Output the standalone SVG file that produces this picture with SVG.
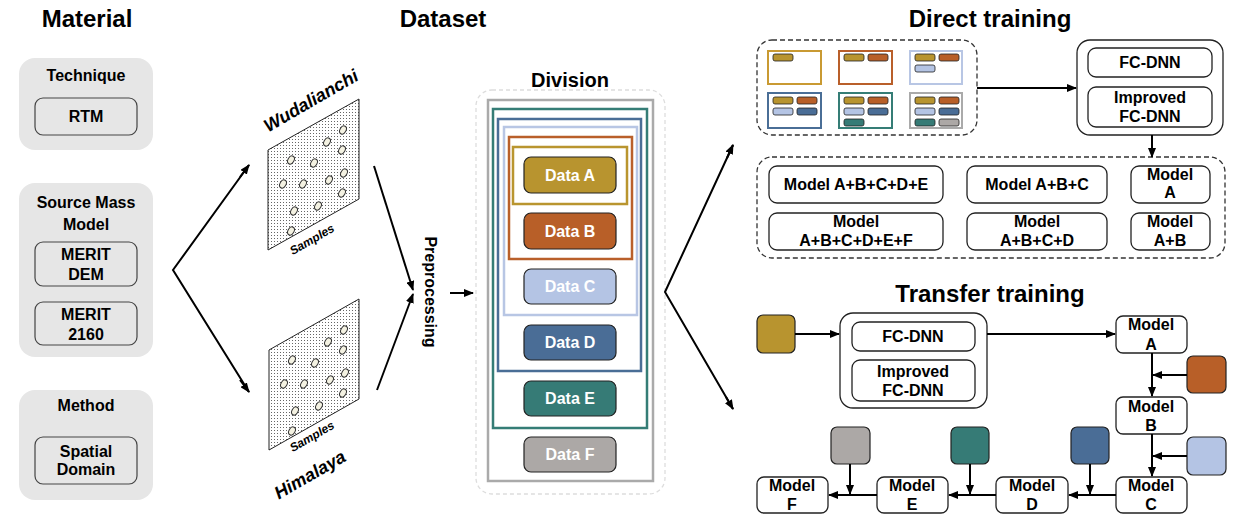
<svg xmlns="http://www.w3.org/2000/svg" xmlns:xlink="http://www.w3.org/1999/xlink" width="1248" height="526" viewBox="0 0 1248 526">
<defs>
<style>
text{font-family:"Liberation Sans",Arial,sans-serif;font-weight:bold;fill:#000;text-anchor:middle}
.title{font-size:24px}
.t16{font-size:16px}
.wt{fill:#fff;font-size:16px}
.ital{font-style:italic}
.panel{fill:#e6e6e6;stroke:none}
.pbox{fill:#e6e6e6;stroke:#444;stroke-width:1.2}
.wbox{fill:#fff;stroke:#222;stroke-width:1.3}
.dash{fill:none;stroke:#333;stroke-width:1.3;stroke-dasharray:5,3}
.arr{fill:none;stroke:#000;stroke-width:2;marker-end:url(#ah)}
.arr2{fill:none;stroke:#000;stroke-width:2}
.dbox{stroke:#222;stroke-width:1.2}
.bar{stroke:#222;stroke-width:0.8}
.pt{fill:#f4f2e2;stroke:#333;stroke-width:1}
</style>
<marker id="ah" viewBox="0 0 10 8" refX="9" refY="4" markerWidth="10" markerHeight="8" markerUnits="userSpaceOnUse" orient="auto">
<path d="M0,0 L10,4 L0,8 z" fill="#000"/>
</marker>
<pattern id="dots" width="3" height="3" patternUnits="userSpaceOnUse">
<rect width="3" height="3" fill="#fff"/>
<rect x="1" y="1" width="1" height="1" fill="#666"/>
</pattern>
<g id="pts">
<ellipse class="pt" cx="343" cy="130" rx="3" ry="4.3" transform="rotate(30 343 130)"/>
<ellipse class="pt" cx="327" cy="142" rx="3" ry="4.3" transform="rotate(30 327 142)"/>
<ellipse class="pt" cx="342" cy="150" rx="3" ry="4.3" transform="rotate(30 342 150)"/>
<ellipse class="pt" cx="291" cy="160" rx="3" ry="4.3" transform="rotate(30 291 160)"/>
<ellipse class="pt" cx="314" cy="163" rx="3" ry="4.3" transform="rotate(30 314 163)"/>
<ellipse class="pt" cx="344" cy="173" rx="3" ry="4.3" transform="rotate(30 344 173)"/>
<ellipse class="pt" cx="329" cy="180" rx="3" ry="4.3" transform="rotate(30 329 180)"/>
<ellipse class="pt" cx="283" cy="184" rx="3" ry="4.3" transform="rotate(30 283 184)"/>
<ellipse class="pt" cx="303" cy="184" rx="3" ry="4.3" transform="rotate(30 303 184)"/>
<ellipse class="pt" cx="342" cy="193" rx="3" ry="4.3" transform="rotate(30 342 193)"/>
<ellipse class="pt" cx="318" cy="206" rx="3" ry="4.3" transform="rotate(30 318 206)"/>
<ellipse class="pt" cx="294" cy="211" rx="3" ry="4.3" transform="rotate(30 294 211)"/>
<ellipse class="pt" cx="291" cy="231" rx="3" ry="4.3" transform="rotate(30 291 231)"/>
</g>
</defs>
<rect width="1248" height="526" fill="#fff"/>

<!-- Titles -->
<text class="title" x="87" y="27">Material</text>
<text class="title" x="443" y="27">Dataset</text>
<text class="title" x="990" y="27">Direct training</text>
<text class="title" x="990" y="302">Transfer training</text>

<!-- Material column -->
<g id="technique">
<rect class="panel" x="19" y="58" width="134" height="92" rx="16"/>
<text class="t16" x="86" y="81">Technique</text>
<rect class="pbox" x="35" y="98" width="102" height="37" rx="8"/>
<text class="t16" x="86" y="122">RTM</text>
</g>
<g id="source-mass-model">
<rect class="panel" x="19" y="183" width="134" height="174" rx="16"/>
<text class="t16" x="86" y="208">Source Mass</text>
<text class="t16" x="86" y="230">Model</text>
<rect class="pbox" x="35" y="242" width="102" height="44" rx="8"/>
<text class="t16" x="86" y="260">MERIT</text>
<text class="t16" x="86" y="280">DEM</text>
<rect class="pbox" x="35" y="302" width="102" height="43" rx="8"/>
<text class="t16" x="86" y="320">MERIT</text>
<text class="t16" x="86" y="340">2160</text>
</g>
<g id="method">
<rect class="panel" x="19" y="390" width="134" height="110" rx="16"/>
<text class="t16" x="86" y="411">Method</text>
<rect class="pbox" x="35" y="437" width="102" height="47" rx="8"/>
<text class="t16" x="86" y="457">Spatial</text>
<text class="t16" x="86" y="475">Domain</text>
</g>

<!-- Sample planes -->
<g id="wudalianchi">
<polygon points="268,150 359,99 359,199 268,250" fill="url(#dots)" stroke="#222" stroke-width="1"/>
<use xlink:href="#pts"/>
<text class="ital" font-size="18" transform="translate(314,106) rotate(-30)">Wudalianchi</text>
<text class="ital" font-size="12" transform="translate(314,243) rotate(-30)">Samples</text>
</g>
<g id="himalaya">
<polygon points="269,350 359,299 359,399 269,450" fill="url(#dots)" stroke="#222" stroke-width="1"/>
<use xlink:href="#pts" transform="translate(1,200)"/>
<text class="ital" font-size="12" transform="translate(314,440) rotate(-30)">Samples</text>
<text class="ital" font-size="18" transform="translate(313,480) rotate(-30)">Himalaya</text>
</g>
<text class="t16" transform="translate(425,292) rotate(90)">Preprocessing</text>

<!-- Division -->
<g id="division">
<text x="570" y="87" font-size="20">Division</text>
<rect x="476" y="90" width="189" height="404" rx="16" fill="none" stroke="#ddd" stroke-width="1.3" stroke-dasharray="4,3"/>
<rect x="488" y="100" width="165" height="381" fill="none" stroke="#aaa" stroke-width="2.5"/>
<rect x="493" y="109" width="154" height="319" fill="none" stroke="#357d76" stroke-width="2.5"/>
<rect x="498" y="119" width="143" height="252" fill="none" stroke="#4a6e96" stroke-width="2.5"/>
<rect x="504" y="127" width="133" height="188" fill="none" stroke="#b8c6e4" stroke-width="2.5"/>
<rect x="509" y="137" width="123" height="122" fill="none" stroke="#b95f2a" stroke-width="2.5"/>
<rect x="513" y="147" width="114" height="57" fill="none" stroke="#b9952f" stroke-width="2.5"/>
</g>
<g id="data-a"><rect class="dbox" x="524" y="157" width="92" height="36" rx="7" fill="#b8942f"/><text class="wt" x="570" y="181">Data A</text></g>
<g id="data-b"><rect class="dbox" x="524" y="213" width="92" height="36" rx="7" fill="#b85f28"/><text class="wt" x="570" y="237">Data B</text></g>
<g id="data-c"><rect class="dbox" x="524" y="269" width="92" height="35" rx="7" fill="#b4c4e4"/><text class="wt" x="570" y="292">Data C</text></g>
<g id="data-d"><rect class="dbox" x="524" y="325" width="92" height="35" rx="7" fill="#4a6d96"/><text class="wt" x="570" y="348">Data D</text></g>
<g id="data-e"><rect class="dbox" x="524" y="381" width="92" height="35" rx="7" fill="#367b76"/><text class="wt" x="570" y="404">Data E</text></g>
<g id="data-f"><rect class="dbox" x="524" y="437" width="92" height="35" rx="7" fill="#aca8a6"/><text class="wt" x="570" y="460">Data F</text></g>

<!-- Direct training -->
<g id="dataset-combos">
<rect class="dash" x="757" y="40" width="220" height="95" rx="15"/>
<rect x="768" y="51" width="53" height="33" fill="none" stroke="#c99a32" stroke-width="2"/>
<rect x="839" y="51" width="53" height="33" fill="none" stroke="#b95f2a" stroke-width="2"/>
<rect x="910" y="51" width="52" height="33" fill="none" stroke="#b8c6e4" stroke-width="2"/>
<rect x="768" y="93" width="53" height="35" fill="none" stroke="#4a6e96" stroke-width="2"/>
<rect x="839" y="93" width="53" height="35" fill="none" stroke="#357d76" stroke-width="2"/>
<rect x="910" y="93" width="52" height="35" fill="none" stroke="#aaa" stroke-width="2"/>
<rect class="bar" x="773" y="54" width="20" height="7" rx="2" fill="#b8942f"/>
<rect class="bar" x="844" y="54" width="20" height="7" rx="2" fill="#b8942f"/>
<rect class="bar" x="868" y="54" width="20" height="7" rx="2" fill="#b85f28"/>
<rect class="bar" x="915" y="54" width="20" height="7" rx="2" fill="#b8942f"/>
<rect class="bar" x="939" y="54" width="20" height="7" rx="2" fill="#b85f28"/>
<rect class="bar" x="915" y="65" width="20" height="7" rx="2" fill="#b4c4e4"/>
<rect class="bar" x="773" y="97" width="20" height="7" rx="2" fill="#b8942f"/>
<rect class="bar" x="797" y="97" width="20" height="7" rx="2" fill="#b85f28"/>
<rect class="bar" x="773" y="108" width="20" height="7" rx="2" fill="#b4c4e4"/>
<rect class="bar" x="797" y="108" width="20" height="7" rx="2" fill="#4a6d96"/>
<rect class="bar" x="844" y="97" width="20" height="7" rx="2" fill="#b8942f"/>
<rect class="bar" x="868" y="97" width="20" height="7" rx="2" fill="#b85f28"/>
<rect class="bar" x="844" y="108" width="20" height="7" rx="2" fill="#b4c4e4"/>
<rect class="bar" x="868" y="108" width="20" height="7" rx="2" fill="#4a6d96"/>
<rect class="bar" x="844" y="119" width="20" height="7" rx="2" fill="#367b76"/>
<rect class="bar" x="915" y="97" width="20" height="7" rx="2" fill="#b8942f"/>
<rect class="bar" x="939" y="97" width="20" height="7" rx="2" fill="#b85f28"/>
<rect class="bar" x="915" y="108" width="20" height="7" rx="2" fill="#b4c4e4"/>
<rect class="bar" x="939" y="108" width="20" height="7" rx="2" fill="#4a6d96"/>
<rect class="bar" x="915" y="119" width="20" height="7" rx="2" fill="#367b76"/>
<rect class="bar" x="939" y="119" width="20" height="7" rx="2" fill="#aca8a6"/>
</g>
<g id="direct-networks">
<rect class="wbox" x="1077" y="40" width="146" height="95" rx="13"/>
<rect class="wbox" x="1088" y="48" width="124" height="29" rx="8"/>
<text class="t16" x="1150" y="68">FC-DNN</text>
<rect class="wbox" x="1088" y="87" width="124" height="40" rx="8"/>
<text class="t16" x="1150" y="103">Improved</text>
<text class="t16" x="1150" y="122">FC-DNN</text>
</g>
<g id="direct-models">
<rect class="dash" x="757" y="157" width="468" height="101" rx="15"/>
<rect class="wbox" x="769" y="166" width="174" height="37" rx="8"/>
<text class="t16" x="856" y="190">Model A+B+C+D+E</text>
<rect class="wbox" x="967" y="166" width="140" height="37" rx="8"/>
<text class="t16" x="1037" y="190">Model A+B+C</text>
<rect class="wbox" x="1131" y="166" width="79" height="37" rx="8"/>
<text class="t16" x="1170" y="180">Model</text>
<text class="t16" x="1170" y="198">A</text>
<rect class="wbox" x="769" y="213" width="174" height="37" rx="8"/>
<text class="t16" x="856" y="227">Model</text>
<text class="t16" x="856" y="246">A+B+C+D+E+F</text>
<rect class="wbox" x="967" y="213" width="140" height="37" rx="8"/>
<text class="t16" x="1037" y="227">Model</text>
<text class="t16" x="1037" y="246">A+B+C+D</text>
<rect class="wbox" x="1131" y="213" width="79" height="37" rx="8"/>
<text class="t16" x="1170" y="227">Model</text>
<text class="t16" x="1170" y="246">A+B</text>
</g>

<!-- Transfer training -->
<g id="transfer-networks">
<rect class="wbox" x="840" y="313" width="147" height="95" rx="13"/>
<rect class="wbox" x="852" y="322" width="123" height="29" rx="8"/>
<text class="t16" x="913" y="342">FC-DNN</text>
<rect class="wbox" x="852" y="360" width="123" height="41" rx="8"/>
<text class="t16" x="913" y="377">Improved</text>
<text class="t16" x="913" y="396">FC-DNN</text>
</g>
<g id="sq-a"><rect class="dbox" x="757" y="315" width="38" height="38" rx="6" fill="#b8942f"/></g>
<g id="sq-b"><rect class="dbox" x="1187" y="356" width="39" height="37" rx="6" fill="#b85f28"/></g>
<g id="sq-c"><rect class="dbox" x="1187" y="437" width="39" height="38" rx="6" fill="#b4c4e4"/></g>
<g id="sq-d"><rect class="dbox" x="1071" y="427" width="38" height="37" rx="6" fill="#4a6d96"/></g>
<g id="sq-e"><rect class="dbox" x="951" y="427" width="38" height="37" rx="6" fill="#367b76"/></g>
<g id="sq-f"><rect class="dbox" x="831" y="427" width="39" height="37" rx="6" fill="#aca8a6"/></g>
<g id="model-a"><rect class="wbox" x="1116" y="316" width="71" height="37" rx="7"/><text class="t16" x="1151" y="330">Model</text><text class="t16" x="1151" y="350">A</text></g>
<g id="model-b"><rect class="wbox" x="1116" y="397" width="71" height="37" rx="7"/><text class="t16" x="1151" y="412">Model</text><text class="t16" x="1151" y="431">B</text></g>
<g id="model-c"><rect class="wbox" x="1116" y="477" width="71" height="36" rx="7"/><text class="t16" x="1151" y="491">Model</text><text class="t16" x="1151" y="510">C</text></g>
<g id="model-d"><rect class="wbox" x="996" y="477" width="72" height="36" rx="7"/><text class="t16" x="1032" y="491">Model</text><text class="t16" x="1032" y="510">D</text></g>
<g id="model-e"><rect class="wbox" x="877" y="477" width="71" height="36" rx="7"/><text class="t16" x="912" y="491">Model</text><text class="t16" x="912" y="510">E</text></g>
<g id="model-f"><rect class="wbox" x="757" y="477" width="71" height="36" rx="7"/><text class="t16" x="792" y="491">Model</text><text class="t16" x="792" y="510">F</text></g>

<!-- Connectors -->
<g id="connectors">
<polyline class="arr2" points="249,165 173,270 249,392"/>
<line class="arr" x1="240" y1="177" x2="249" y2="165"/>
<line class="arr" x1="240" y1="380" x2="249" y2="392"/>
<line class="arr" x1="374" y1="166" x2="413" y2="290"/>
<line class="arr" x1="377" y1="390" x2="413" y2="294"/>
<line class="arr" x1="450" y1="293" x2="473" y2="293"/>
<polyline class="arr2" points="733,145 665,292 733,409"/>
<line class="arr" x1="727" y1="158" x2="733" y2="145"/>
<line class="arr" x1="726" y1="397" x2="733" y2="409"/>
<line class="arr" x1="977" y1="88" x2="1076" y2="88"/>
<line class="arr" x1="1152" y1="135" x2="1152" y2="157"/>
<line class="arr" x1="795" y1="334" x2="839" y2="334"/>
<line class="arr" x1="987" y1="334" x2="1115" y2="334"/>
<line class="arr" x1="1152" y1="353" x2="1152" y2="396"/>
<line class="arr" x1="1187" y1="375" x2="1153" y2="375"/>
<line class="arr" x1="1152" y1="434" x2="1152" y2="476"/>
<line class="arr" x1="1187" y1="456" x2="1153" y2="456"/>
<line class="arr" x1="1116" y1="495" x2="1069" y2="495"/>
<line class="arr" x1="1090" y1="464" x2="1090" y2="494"/>
<line class="arr" x1="996" y1="495" x2="949" y2="495"/>
<line class="arr" x1="970" y1="464" x2="970" y2="494"/>
<line class="arr" x1="877" y1="495" x2="829" y2="495"/>
<line class="arr" x1="850" y1="464" x2="850" y2="494"/>
</g>
</svg>
